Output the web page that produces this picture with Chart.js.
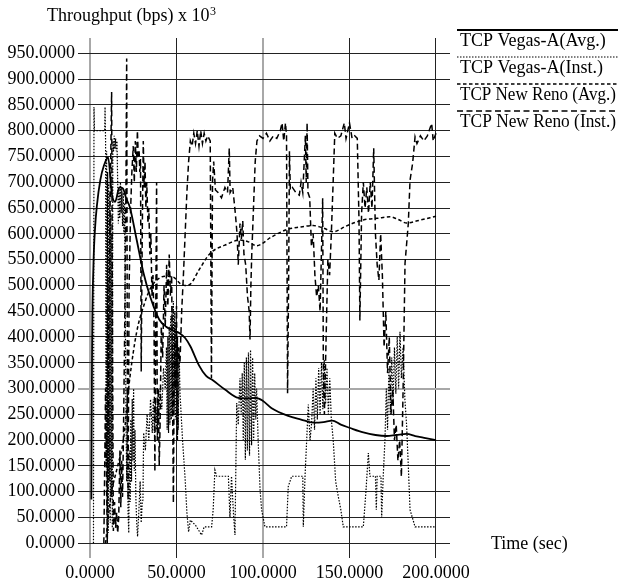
<!DOCTYPE html>
<html><head><meta charset="utf-8">
<script src="https://cdn.jsdelivr.net/npm/chart.js@4.4.1/dist/chart.umd.min.js"></script>
<style>html,body{margin:0;padding:0;background:#fff;}canvas{display:block;}</style>
</head><body>
<canvas id="c" width="618" height="587"></canvas>
<script>
// ---- tick labels ----
const xTicks = [0, 50, 100, 150, 200];
const yTicks = [0, 50, 100, 150, 200, 250, 300, 350, 400, 450, 500, 550, 600, 650, 700, 750, 800, 850, 900, 950];
const titleText = 'Throughput (bps) x 10';
const titleExp = '3';
const xAxisText = 'Time (sec)';
const seriesLabels = ['TCP Vegas-A(Avg.)', 'TCP Vegas-A(Inst.)', 'TCP New Reno (Avg.)', 'TCP New Reno (Inst.)'];

// ---- series values: [time (sec), throughput] ----
const vegasAvg = [[0.8,85],[1.2,380],[2,540],[3,615],[4,655],[6,705],[8,732],[10.5,748],[12.5,680],[14.5,662],[17,690],[19,688],[21,668],[23,652],[27,588],[31,523],[35,476],[40,434],[44,420],[48,413],[52,407],[55,398],[58,382],[63,345],[67,325],[71,316],[78,298],[85.7,282],[91,281],[96,282],[100,276],[105,262],[114.6,247],[122,240],[129,234],[135,235],[140,238],[145,230],[150,224],[158,215],[165,210],[171.5,208],[177,210],[183,212],[188,208],[194,204],[200,200]];

const vegasInst = [[2.0,0],[2.3,846],[2.6,800],[8.5,800],[8.7,846],[9.0,780],[9.3,150],[9.6,760],[9.9,60],[10.2,720],[10.5,20],[10.8,700],[11.1,120],[11.4,680],[11.7,40],[12.0,640],[12.3,90],[12.6,600],[12.9,30],[13.2,780],[13.6,760],[14.0,790],[14.4,765],[14.8,785],[15.2,760],[15.6,780],[16.0,700],[16.4,620],[16.8,690],[17.2,630],[17.6,700],[18.0,640],[18.4,690],[18.8,615],[19.2,680],[19.6,600],[20.0,660],[20.4,450],[20.8,250],[21.2,120],[21.6,300],[22.0,60],[22.4,20],[22.8,180],[23.2,80],[23.6,240],[24.0,120],[24.4,280],[24.8,160],[25.2,300],[25.6,140],[26.0,220],[26.5,90],[27.0,40],[27.5,13],[28.2,60],[29.0,120],[29.6,40],[30.2,80],[30.6,84],[31.0,214],[32,180],[33,250],[34,200],[35,279],[36,214],[36.6,279],[37.2,214],[37.8,279],[38.4,220],[39,270],[39.5,230],[40.5,300],[41.5,260],[42.5,340],[43.5,300],[44.2,380],[44.6,220],[45.0,400],[45.4,214],[45.8,420],[46.2,230],[46.6,440],[47.0,240],[47.4,460],[47.8,250],[48.2,470],[48.6,260],[49.0,450],[49.4,240],[49.8,430],[50.2,230],[50.6,400],[51.0,220],[51.5,380],[52.0,292],[53.5,200],[55,124],[56,60],[57,22],[58,45],[61,35],[64.5,16],[66,32],[70.3,32],[71.2,65],[72.2,142],[73.2,130],[80,130],[80.9,50],[81.8,130],[82.9,60],[83.8,16],[84.8,272],[85.7,230],[86.7,320],[87.4,250],[88,330],[88.6,200],[89.2,350],[89.8,162],[90.4,360],[91,180],[91.6,370],[92.2,170],[92.8,375],[93.4,190],[94,360],[94.6,200],[95.2,330],[95.8,240],[96.3,300],[97.2,200],[98.3,104],[99.2,65],[101.1,32],[113.6,32],[114.6,110],[116.6,130],[123,130],[123.3,32],[124.3,130],[126.2,269],[127.2,200],[128.1,233],[129,300],[129.8,220],[130.6,320],[131.4,240],[132.2,340],[133,250],[133.8,350],[134.6,260],[135.4,356],[136.2,270],[137,340],[137.8,250],[138.6,320],[139.5,240],[140.6,200],[142,120],[143.5,91],[145,65],[146.4,32],[158,32],[159.5,100],[160.9,175],[161.8,130],[165,130],[165.5,65],[166,130],[168.2,130],[168.6,50],[169.5,130],[170.5,200],[171.3,300],[172,220],[172.8,340],[173.6,250],[174.4,360],[175.2,270],[176,380],[176.8,290],[177.6,400],[178.4,300],[179.2,410],[180,320],[181,380],[182,280],[183,230],[184,150],[185,65],[187.9,32],[200,32]];

const renoAvg = [[9,0],[12,90],[16,150],[19.3,200],[23,320],[27,410],[31.5,465],[35,495],[40.5,515],[44,518],[48.2,516],[52,504],[55,500],[57.8,502],[63,530],[69.4,562],[78,578],[86.7,588],[92,584],[96.3,577],[105,594],[113.6,608],[121,613],[129,616],[135,611],[140.6,604],[148,615],[158,627],[166,630],[173.4,633],[178,628],[183,621],[190,626],[200,634]];

const renoInst = [[8,0],[9,300],[10,0],[11,500],[12.5,875],[13,400],[13.5,24],[14.2,80],[14.8,30],[15.4,60],[16,20],[16.6,50],[17.3,180],[17.8,70],[18.3,160],[18.8,90],[19.3,200],[20,400],[20.8,700],[21.2,940],[21.6,300],[22,84],[22.6,500],[23.5,650],[24.2,720],[25,770],[25.6,700],[26.2,780],[26.8,720],[27.4,800],[27.9,750],[28.4,760],[28.8,720],[29.2,745],[29.6,333],[30.2,600],[30.8,780],[31.3,690],[31.8,740],[32.3,650],[32.8,700],[33.5,620],[34,650],[34.6,560],[35.2,600],[35.8,480],[36.4,520],[37,430],[37.5,139],[38,450],[38.5,700],[38.9,200],[39.5,300],[40,150],[40.5,227],[41.2,420],[42,360],[42.8,500],[43.5,420],[44.3,540],[45,460],[45.8,560],[46.5,480],[47.2,520],[48.2,78],[48.8,400],[49.4,300],[50,460],[50.5,200],[51,380],[52,350],[53,450],[54,520],[55,600],[56,680],[57,740],[58,780],[59,770],[60,795],[61,775],[62,800],[63,770],[64,800],[65,775],[66,795],[67,780],[68,790],[69.5,780],[70.2,320],[70.8,700],[71.5,740],[72.5,685],[74,680],[76,670],[78,690],[79.5,680],[80.5,766],[81,680],[82.5,690],[84,640],[85,600],[85.7,540],[86.7,620],[87.5,590],[88.3,625],[89,560],[90,540],[91,480],[92,450],[92.5,395],[93,500],[93.5,560],[94.5,650],[95.5,740],[96.5,780],[98,790],[100,785],[102,795],[104,780],[106,790],[108,785],[110,800],[111,815],[112,780],[113,815],[113.6,790],[114.2,291],[114.8,500],[115.3,760],[115.8,685],[117,690],[119,680],[121,675],[122,700],[123,680],[124.5,790],[125,700],[125.5,815],[126,680],[127,670],[128,575],[129,600],[130,520],[131,478],[132,500],[133,450],[134.5,669],[134.9,330],[135.5,250],[136.5,400],[137.5,550],[138.5,520],[139.5,600],[140.6,705],[141.5,795],[143,785],[145,790],[147,815],[148,785],[150,815],[151.5,785],[153,790],[154.5,785],[155.5,625],[156,432],[157,640],[158,700],[159,650],[160,690],[161,640],[162,700],[163,650],[164,766],[165,600],[166,540],[167,510],[168,600],[169,520],[170,380],[171,450],[172,330],[173,400],[174,250],[175,300],[176,200],[177,230],[178,160],[179,200],[180,129],[181,300],[182.1,543],[184,620],[185,704],[186.5,737],[187.9,788],[189,775],[191,790],[193,780],[195,790],[197.5,814],[198.4,780],[200,795]];

const toXY = arr => arr.map(p => ({x: p[0], y: p[1]}));

const styles = [
  {w: 1.8, dash: []},
  {w: 1.2, dash: [1.5, 1.5]},
  {w: 1.5, dash: [3.5, 2.5]},
  {w: 1.5, dash: [6, 3.5]}
];

const FONT = '"Liberation Serif", "Times New Roman", serif';
Chart.defaults.font.family = FONT;
Chart.defaults.font.size = 18;
Chart.defaults.color = '#000';

const decor = {
  id: 'decor',
  afterDraw(chart) {
    const ctx = chart.ctx;
    ctx.save();
    ctx.fillStyle = '#000';
    ctx.strokeStyle = '#000';
    ctx.textAlign = 'left';
    ctx.textBaseline = 'alphabetic';
    ctx.font = '18px ' + FONT;
    ctx.fillText(titleText, 47, 21);
    const w = ctx.measureText(titleText).width;
    ctx.font = '12px ' + FONT;
    ctx.fillText(titleExp, 47 + w + 0.5, 15);
    ctx.font = '18px ' + FONT;
    ctx.textBaseline = 'middle';
    ctx.fillText(xAxisText, 491, 544);
    ctx.textBaseline = 'alphabetic';
    const ly = [30, 57, 84, 111];
    seriesLabels.forEach((lab, i) => {
      ctx.beginPath();
      ctx.lineWidth = styles[i].w;
      ctx.setLineDash(styles[i].dash);
      ctx.moveTo(457, ly[i]);
      ctx.lineTo(618, ly[i]);
      ctx.stroke();
      ctx.setLineDash([]);
      ctx.fillText(lab, 460, ly[i] + 16, 156);
    });
    ctx.restore();
  }
};

const mk = (label, arr, i, smooth) => ({
  label, data: toXY(arr),
  borderColor: '#000', backgroundColor: '#000',
  borderWidth: styles[i].w, borderDash: styles[i].dash,
  pointRadius: 0, fill: false,
  tension: 0,
  cubicInterpolationMode: smooth ? 'monotone' : 'default'
});

const lightX = [0, 100];
const lightY = [300];

new Chart(document.getElementById('c'), {
  type: 'line',
  data: {
    datasets: [
      mk(seriesLabels[1], vegasInst, 1, false),
      mk(seriesLabels[3], renoInst, 3, false),
      mk(seriesLabels[2], renoAvg, 2, true),
      mk(seriesLabels[0], vegasAvg, 0, true)
    ]
  },
  options: {
    responsive: false,
    animation: false,
    devicePixelRatio: 1,
    layout: {padding: {left: 0, right: 168, top: 38, bottom: 0}},
    plugins: {legend: {display: false}, title: {display: false}, tooltip: {enabled: false}},
    scales: {
      x: {
        type: 'linear', min: -6.94, max: 208.1,
        afterBuildTicks: s => { s.ticks = xTicks.map(v => ({value: v})); },
        afterFit: s => { s.height = 29; },
        ticks: {callback: v => Number(v).toFixed(4), padding: 4, maxRotation: 0, autoSkip: false},
        grid: {
          color: c => (c.tick && lightX.includes(c.tick.value)) ? '#a8a8a8' : '#222',
          lineWidth: c => (c.tick && lightX.includes(c.tick.value)) ? 2 : 1,
          drawTicks: false
        },
        border: {display: false}
      },
      y: {
        type: 'linear', min: -28.5, max: 979.7,
        afterBuildTicks: s => { s.ticks = yTicks.map(v => ({value: v})); },
        afterFit: s => { s.width = 78; },
        ticks: {callback: v => Number(v).toFixed(4), padding: 3, autoSkip: false},
        grid: {
          color: c => (c.tick && lightY.includes(c.tick.value)) ? '#a8a8a8' : '#222',
          lineWidth: c => (c.tick && lightY.includes(c.tick.value)) ? 2 : 1,
          drawTicks: false
        },
        border: {display: false}
      }
    }
  },
  plugins: [decor]
});
</script>
</body></html>
